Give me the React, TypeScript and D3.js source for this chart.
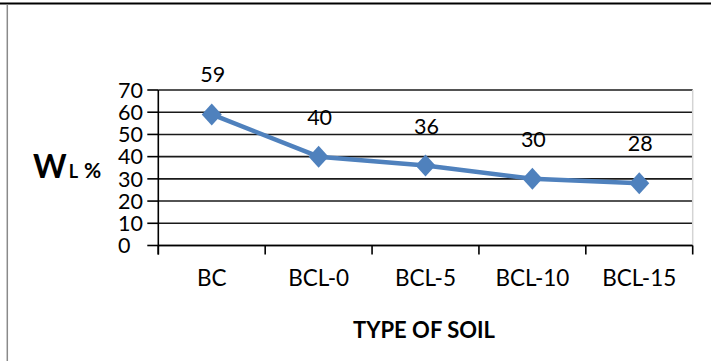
import React from "react";
import * as d3 from "d3";

const categories = ["BC", "BCL-0", "BCL-5", "BCL-10", "BCL-15"];
const values = [59, 40, 36, 30, 28];
const yTicks = [0, 10, 20, 30, 40, 50, 60, 70];

const W = 711;
const H = 361;
const plotLeft = 158.3;
const plotRight = 692.7;
const plotTop = 90;
const plotBottom = 245.5;
const FONT = "Lato, 'Open Sans', sans-serif";

export default function App() {
  const x = d3.scaleBand<string>().domain(categories).range([plotLeft, plotRight]);
  const y = d3.scaleLinear().domain([0, 70]).range([plotBottom, plotTop]);
  const cx = (c: string) => (x(c) as number) + x.bandwidth() / 2;
  const line = d3
    .line<number>()
    .x((_, i) => cx(categories[i]))
    .y((d) => y(d));
  const diamond = (px: number, py: number) => {
    const hw = 10, hh = 11;
    return `M${px},${py - hh}L${px + hw},${py}L${px},${py + hh}L${px - hw},${py}Z`;
  };
  const tickXs = [...categories.map((c) => x(c) as number), plotRight];

  return (
    <svg
      width={W}
      height={H}
      style={{ position: "absolute", left: 0, top: 0, display: "block", background: "#fff" }}
    >
      <rect x={0} y={0} width={W} height={H} fill="#fff" />
      {/* outer frame */}
      <line x1={0} x2={W} y1={3.5} y2={3.5} stroke="#000" strokeWidth={1.8} />
      <line x1={7.3} x2={7.3} y1={4} y2={H} stroke="#8a8a8a" strokeWidth={1.5} />

      {/* gridlines */}
      {yTicks.map((t) => (
        <line key={t} x1={plotLeft} x2={plotRight} y1={y(t)} y2={y(t)} stroke="#1a1a1a" strokeWidth={1.6} />
      ))}
      {/* right border */}
      <line x1={plotRight} x2={plotRight} y1={plotTop} y2={plotBottom} stroke="#d4d4d4" strokeWidth={1.5} />

      {/* y axis */}
      <line x1={plotLeft} x2={plotLeft} y1={plotTop} y2={plotBottom + 9} stroke="#000" strokeWidth={1.6} />
      {yTicks.map((t) => (
        <g key={"yt" + t}>
          <line x1={plotLeft - 11} x2={plotLeft} y1={y(t)} y2={y(t)} stroke="#000" strokeWidth={1.6} />
          <text x={118} y={y(t) + 7.8} fontFamily={FONT} fontSize={21.5} fill="#000">
            {t}
          </text>
        </g>
      ))}

      {/* x axis */}
      <line x1={plotLeft} x2={plotRight} y1={plotBottom} y2={plotBottom} stroke="#000" strokeWidth={1.6} />
      {tickXs.map((tx, i) => (
        <line key={"xt" + i} x1={tx} x2={tx} y1={plotBottom} y2={plotBottom + 9} stroke="#000" strokeWidth={1.6} />
      ))}
      {categories.map((c) => (
        <text key={c} x={cx(c)} y={286} textAnchor="middle" fontFamily={FONT} fontSize={22.5} fill="#000">
          {c}
        </text>
      ))}

      {/* series */}
      <path d={line(values) || ""} fill="none" stroke="#4F81BD" strokeWidth={4.5} strokeLinejoin="round" />
      {values.map((v, i) => (
        <path key={"m" + i} d={diamond(cx(categories[i]), y(v))} fill="#4F81BD" />
      ))}
      {values.map((v, i) => (
        <text
          key={"l" + i}
          x={cx(categories[i]) + 1}
          y={y(v) - 32}
          textAnchor="middle"
          fontFamily={FONT}
          fontSize={21.5}
          fill="#000"
        >
          {v}
        </text>
      ))}

      {/* axis titles */}
      <text x={33} y={178} fontFamily={FONT} fill="#000" fontWeight="bold">
        <tspan fontSize={32}>W</tspan>
        <tspan fontSize={18} dx={2}>L</tspan>
        <tspan fontSize={21} dx={6}>%</tspan>
      </text>
      <text x={424} y={338} textAnchor="middle" fontFamily={FONT} fontWeight="bold" fontSize={22} fill="#000">
        TYPE OF SOIL
      </text>
    </svg>
  );
}
